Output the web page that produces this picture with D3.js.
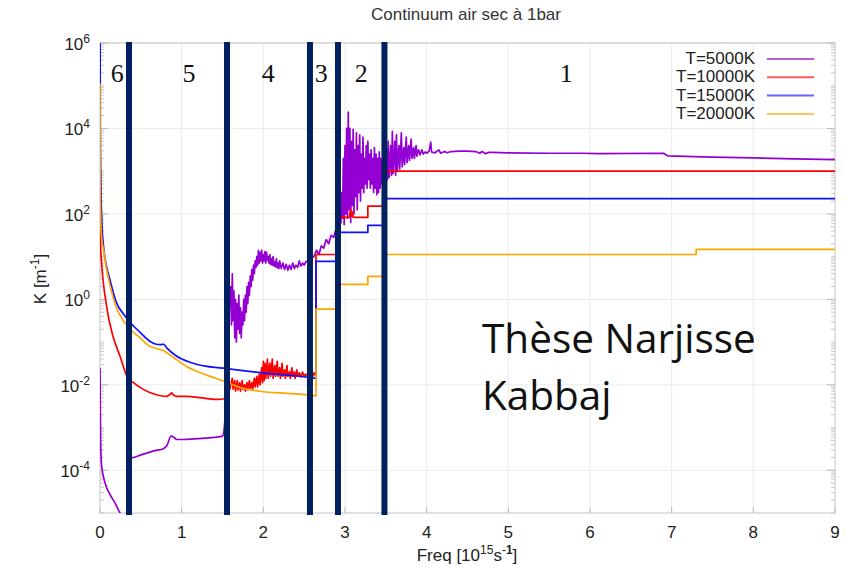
<!DOCTYPE html>
<html><head><meta charset="utf-8">
<script src="https://cdn.jsdelivr.net/npm/d3@7"></script>
<style>body{margin:0;background:#fff} svg{display:block}</style>
</head><body><svg id="chart" width="846" height="570"></svg>
<script>
// ---------- DATA ----------
const xTicks = [0,1,2,3,4,5,6,7,8,9];
const yTickExps = [-4,-2,0,2,4,6];
const seriesNames = ["T=5000K","T=10000K","T=15000K","T=20000K"];
const seriesColors = ["#9400d3","#ff0000","#1010ff","#ffa500"];
const smoothUntil = [1.56,1.56,2.645,2.645];   // smooth (low-frequency) part of each curve
const regionBars = [0.355,1.555,2.571,2.914,3.483];
const regionLabels = ["6","5","4","3","2","1"];
const regionLabelFreq = [0.21,1.09,2.06,2.71,3.20,5.71];
const noteLines = ["Thèse Narjisse","Kabbaj"];

// pairs: [frequency (1e15 s^-1), log10 K (m^-1)]
const t5000 = [
 [0,-1.6],[0.004,-2.6],[0.008,-3.3],[0.02,-3.9],[0.06,-4.28],[0.12,-4.56],[0.18,-4.75],[0.245,-5.0],[0.3,-5.2],[0.35,-5.4],
 [0.36,-3.72],[0.41,-3.7],[0.5,-3.64],[0.6,-3.58],[0.7,-3.53],[0.77,-3.5],[0.82,-3.42],[0.87,-3.2],[0.9,-3.22],[0.94,-3.28],[1.0,-3.28],[1.2,-3.26],[1.4,-3.23],[1.5,-3.2],[1.52,-3.04],[1.555,-2.0],
 [1.59,0.2],[1.60,0.3],[1.61,-0.6],[1.62,0.6],[1.63,-0.5],[1.64,0.2],[1.65,-0.9],[1.66,0.0],[1.67,-1.0],[1.68,-0.1],[1.69,-0.7],[1.70,0.1],[1.71,-0.8],[1.72,-0.2],[1.73,-0.9],[1.74,-0.3],[1.75,-0.6],[1.76,0.0],[1.77,-0.5],[1.78,0.1],[1.79,-0.3],[1.80,0.3],[1.81,-0.1],[1.82,0.4],[1.83,0.1],[1.84,0.55],[1.85,0.3],[1.86,0.7],[1.87,0.45],[1.88,0.8],[1.89,0.6],[1.90,0.9],[1.91,0.75],[1.92,1.0],[1.93,0.8],[1.94,1.15],[1.95,0.85],[1.96,1.1],[1.97,0.9],[1.98,1.15],[1.99,0.85],[2.00,1.05],
 [2.01,0.9],[2.02,1.12],[2.03,0.85],[2.04,1.1],[2.05,0.92],[2.06,1.0],[2.07,0.85],[2.08,1.05],[2.09,0.82],[2.10,0.95],[2.11,0.8],[2.12,1.0],[2.13,0.78],[2.14,0.88],[2.15,0.76],[2.16,0.95],[2.17,0.74],[2.18,0.85],[2.19,0.72],[2.20,0.9],[2.22,0.72],[2.24,0.85],[2.26,0.7],[2.28,0.82],[2.30,0.68],[2.32,0.8],[2.34,0.7],[2.36,0.85],[2.38,0.72],[2.40,0.8],[2.42,0.75],[2.44,0.9],[2.46,0.78],[2.48,0.85],[2.50,0.8],[2.52,0.88],[2.55,0.9],
 [2.58,0.95],[2.62,1.0],[2.65,1.15],[2.68,1.05],[2.71,1.25],[2.74,1.2],[2.77,1.4],[2.80,1.3],[2.83,1.5],[2.86,1.45],[2.89,1.65],[2.92,1.7],
 [2.95,1.8],[2.96,2.5],[2.97,1.9],[2.98,3.3],[2.99,1.75],[3.00,3.6],[3.01,2.0],[3.02,4.0],[3.03,1.9],[3.04,4.38],[3.05,2.1],[3.06,4.0],[3.07,1.8],[3.08,3.7],[3.09,2.2],[3.10,3.98],[3.11,2.0],[3.12,3.5],[3.13,2.4],[3.14,3.9],[3.15,2.1],[3.16,3.6],[3.17,2.5],[3.18,3.85],[3.19,2.3],[3.20,3.4],[3.21,2.6],[3.22,3.8],[3.23,2.5],[3.24,3.3],[3.25,2.7],[3.26,3.6],[3.27,2.6],[3.28,3.7],[3.29,2.8],[3.30,3.4],[3.31,2.6],[3.32,3.5],[3.33,2.7],[3.34,3.3],[3.35,2.5],[3.36,3.55],[3.37,2.6],[3.38,3.4],[3.39,2.45],[3.40,3.3],[3.41,2.5],[3.42,3.45],[3.43,2.6],[3.44,3.3],[3.45,2.7],[3.46,3.2],
 [3.50,2.9],[3.51,3.5],[3.52,2.8],[3.53,3.7],[3.54,2.85],[3.56,3.6],[3.57,2.9],[3.58,3.93],[3.59,2.95],[3.61,3.7],[3.62,2.9],[3.63,3.85],[3.64,3.0],[3.66,3.6],[3.67,3.05],[3.69,3.9],[3.70,3.1],[3.72,3.55],[3.73,3.15],[3.75,3.8],[3.76,3.2],[3.78,3.6],[3.79,3.25],[3.81,3.75],[3.82,3.3],[3.84,3.55],[3.85,3.3],[3.87,3.6],[3.88,3.35],[3.90,3.5],[3.92,3.38],[3.94,3.5],[3.96,3.4],[3.98,3.45],[4.00,3.42],[4.03,3.47],[4.05,3.68],[4.06,3.45],[4.10,3.43],[4.15,3.5],[4.17,3.42],[4.22,3.46],[4.25,3.43],[4.30,3.46],[4.40,3.47],[4.50,3.47],[4.60,3.46],[4.65,3.42],[4.68,3.46],[4.72,3.41],[4.76,3.44],[4.80,3.44],[5.0,3.43],[5.5,3.42],[5.9,3.42],[6.1,3.41],[6.9,3.42],[6.95,3.36],[7.5,3.33],[8.0,3.31],[8.5,3.29],[9.0,3.27]
];
const t10000 = [
 [0,2.15],[0.006,1.3],[0.02,0.85],[0.08,-0.16],[0.16,-0.87],[0.245,-1.33],[0.33,-1.8],[0.41,-1.95],[0.49,-2.06],[0.61,-2.18],[0.73,-2.25],[0.82,-2.27],[0.86,-2.22],[0.88,-2.19],[0.9,-2.24],[0.94,-2.27],[1.06,-2.27],[1.22,-2.3],[1.43,-2.34],[1.55,-2.32],[1.59,-2.1],
 [1.60,-2.0],[1.62,-1.85],[1.63,-2.1],[1.65,-1.9],[1.66,-2.15],[1.68,-1.9],[1.69,-2.12],[1.71,-1.95],[1.72,-2.15],[1.74,-1.9],[1.75,-2.1],[1.77,-2.0],[1.78,-2.15],[1.80,-1.95],[1.81,-2.12],[1.83,-1.9],[1.84,-2.1],[1.86,-1.95],[1.87,-2.1],[1.89,-1.85],[1.90,-2.05],[1.92,-1.8],[1.93,-2.05],[1.95,-1.75],[1.96,-2.0],[1.98,-1.6],[1.99,-1.95],[2.00,-1.45],[2.01,-1.9],[2.02,-1.5],[2.03,-1.85],[2.05,-1.4],[2.06,-1.85],[2.08,-1.5],[2.09,-1.8],[2.11,-1.4],[2.12,-1.85],[2.14,-1.55],[2.15,-1.8],[2.17,-1.45],[2.18,-1.8],[2.20,-1.6],[2.21,-1.85],[2.23,-1.5],[2.24,-1.8],[2.26,-1.65],[2.27,-1.85],[2.29,-1.55],[2.30,-1.8],[2.32,-1.7],[2.33,-1.85],[2.35,-1.6],[2.36,-1.8],[2.38,-1.7],[2.39,-1.85],[2.41,-1.65],[2.42,-1.8],[2.44,-1.72],[2.46,-1.82],[2.48,-1.7],[2.50,-1.8],[2.52,-1.75],[2.55,-1.8],[2.57,-1.75],[2.60,-1.82],[2.62,-1.72],[2.645,-1.8],
 [2.645,1.05],[2.914,1.05],[2.914,1.92],[3.05,1.92],[3.07,2.1],[3.08,1.95],[3.09,2.05],[3.1,1.92],[3.28,1.92],[3.28,2.18],[3.483,2.18],[3.483,3.0],[9,3.0]
];
const t15000 = [
 [0,7],[0.004,4],[0.012,2.6],[0.025,1.7],[0.04,1.3],[0.08,0.77],[0.12,0.47],[0.2,-0.07],[0.29,-0.35],[0.37,-0.54],[0.49,-0.77],[0.61,-0.98],[0.69,-1.05],[0.74,-1.06],[0.78,-1.05],[0.82,-1.14],[0.94,-1.33],[1.1,-1.47],[1.31,-1.57],[1.55,-1.62],[1.8,-1.68],[2.04,-1.73],[2.45,-1.8],[2.645,-1.85],
 [2.645,0.89],[2.914,0.89],[2.914,1.57],[3.28,1.57],[3.28,1.73],[3.483,1.73],[3.483,2.36],[9,2.36]
];
const t20000 = [
 [0,5.05],[0.002,3.0],[0.01,1.8],[0.025,1.35],[0.04,1.2],[0.08,0.7],[0.12,0.35],[0.2,-0.19],[0.29,-0.51],[0.37,-0.7],[0.49,-0.9],[0.61,-1.1],[0.73,-1.17],[0.78,-1.2],[0.82,-1.25],[0.9,-1.36],[1.06,-1.57],[1.22,-1.71],[1.39,-1.83],[1.55,-1.94],[1.71,-2.06],[1.96,-2.15],[2.29,-2.2],[2.45,-2.22],[2.645,-2.26],
 [2.645,-0.23],[2.914,-0.23],[2.914,0.35],[3.28,0.35],[3.28,0.54],[3.483,0.54],[3.483,1.05],[7.3,1.05],[7.3,1.17],[9,1.17]
];
const seriesData = [t5000,t10000,t15000,t20000];

// ---------- CHART ----------
const svg = d3.select("#chart");
const L=100, R=835, T=43, B=513;
const x = d3.scaleLinear().domain([0,9]).range([L,R]);
const y = d3.scaleLog().domain([1e-5,1e6]).range([B,T]);
const sans = "'Liberation Sans', Arial, sans-serif";

// grid
const g = svg.append("g");
g.selectAll(".gx").data(xTicks.slice(1,-1)).enter().append("line")
 .attr("x1",d=>x(d)).attr("x2",d=>x(d)).attr("y1",T).attr("y2",B)
 .attr("stroke","#ebebeb").attr("stroke-width",1);
g.selectAll(".gy").data(yTickExps).enter().append("line")
 .attr("x1",L).attr("x2",R).attr("y1",d=>y(Math.pow(10,d))).attr("y2",d=>y(Math.pow(10,d)))
 .attr("stroke","#ebebeb").attr("stroke-width",1);

// minor ticks (log)
const minor=[];
for(let k=-5;k<6;k++) for(let m=1;m<10;m++){const v=m*Math.pow(10,k); if(v>=1e-5&&v<=1e6 && !(m===1 && k%2===0)) minor.push(v);}
[[L,4],[R,-4]].forEach(([x0,len])=>{
 g.selectAll(null).data(minor).enter().append("line")
  .attr("x1",x0).attr("x2",x0+len).attr("y1",d=>y(d)).attr("y2",d=>y(d))
  .attr("stroke","#bbb").attr("stroke-width",0.8);
 g.selectAll(null).data(yTickExps).enter().append("line")
  .attr("x1",x0).attr("x2",x0+len*2).attr("y1",d=>y(Math.pow(10,d))).attr("y2",d=>y(Math.pow(10,d)))
  .attr("stroke","#aaa").attr("stroke-width",0.8);
});
g.selectAll(null).data(xTicks).enter().append("line")
 .attr("x1",d=>x(d)).attr("x2",d=>x(d)).attr("y1",B).attr("y2",B-6)
 .attr("stroke","#aaa").attr("stroke-width",0.8);

// frame
svg.append("rect").attr("x",L).attr("y",T).attr("width",R-L).attr("height",B-T)
 .attr("fill","none").attr("stroke","#c4c4c4").attr("stroke-width",1);

// clip
svg.append("defs").append("clipPath").attr("id","clip").append("rect")
 .attr("x",L).attr("y",T).attr("width",R-L).attr("height",B-T);

const px = d=>x(d[0]), py = d=>y(Math.pow(10,d[1]));
const smoothLine = d3.line().x(px).y(py).curve(d3.curveMonotoneX);
const rawLine = d3.line().x(px).y(py);
const curves = svg.append("g").attr("clip-path","url(#clip)");
seriesData.forEach((s,i)=>{
 let idx = 0;
 s.forEach((d,j)=>{ if(d[0] < smoothUntil[i]) idx = j; });
 const gS = curves.append("g").attr("fill","none").attr("stroke",seriesColors[i])
  .attr("stroke-width",1.7).attr("stroke-linejoin","round");
 gS.append("path").attr("d",smoothLine(s.slice(0,idx+1)));
 gS.append("path").attr("d",rawLine(s.slice(idx)));
});

// region bars
svg.selectAll(".bar").data(regionBars).enter().append("rect")
 .attr("x",d=>x(d)-3).attr("width",6).attr("y",T-1).attr("height",B-T+3)
 .attr("fill","#002060");

// region labels
svg.selectAll(".rl").data(regionLabels).enter().append("text")
 .attr("x",(d,i)=>x(regionLabelFreq[i])).attr("y",82).attr("text-anchor","middle")
 .attr("font-family","'Liberation Serif', 'Times New Roman', serif").attr("font-size",26)
 .attr("fill","#111").text(d=>d);

// y tick labels
const yl = svg.selectAll(".ytl").data(yTickExps).enter().append("text")
 .attr("x",90).attr("y",d=>y(Math.pow(10,d))+7).attr("text-anchor","end")
 .attr("font-family",sans).attr("font-size",17).attr("fill","#222");
yl.append("tspan").text("10");
yl.append("tspan").attr("dy",-7).attr("font-size",12).text(d=>d<0?"-"+(-d):String(d));

// x tick labels
svg.selectAll(".xtl").data(xTicks).enter().append("text")
 .attr("x",d=>x(d)).attr("y",538).attr("text-anchor","middle")
 .attr("font-family",sans).attr("font-size",17).attr("fill","#222").text(d=>d);

// title
svg.append("text").attr("x",466).attr("y",20).attr("text-anchor","middle")
 .attr("font-family",sans).attr("font-size",17).attr("fill","#333").text("Continuum air sec à 1bar");

// x label
const xl = svg.append("text").attr("x",467).attr("y",561).attr("text-anchor","middle")
 .attr("font-family",sans).attr("font-size",17).attr("fill","#222");
xl.append("tspan").text("Freq [10");
xl.append("tspan").attr("dy",-7).attr("font-size",12).text("15");
xl.append("tspan").attr("dy",7).text("s");
xl.append("tspan").attr("dy",-7).attr("font-size",12).text("-");
xl.append("tspan").attr("font-size",12).attr("font-weight","bold").text("1");
xl.append("tspan").attr("dy",7).text("]");

// y label
const ylab = svg.append("text").attr("transform","translate(46,279) rotate(-90)").attr("text-anchor","middle")
 .attr("font-family",sans).attr("font-size",17).attr("fill","#222");
ylab.append("tspan").text("K [m");
ylab.append("tspan").attr("dy",-7).attr("font-size",12).text("-1");
ylab.append("tspan").attr("dy",7).text("]");

// legend
const lg = svg.append("g");
seriesNames.forEach((n,i)=>{
 const yy = 64 + i*18.3;
 lg.append("text").attr("x",755).attr("y",yy).attr("text-anchor","end")
  .attr("font-family",sans).attr("font-size",17).attr("fill","#222").text(n);
 lg.append("line").attr("x1",767).attr("x2",814).attr("y1",yy-5).attr("y2",yy-5)
  .attr("stroke",seriesColors[i]).attr("stroke-width",2).attr("opacity",0.65);
});

// annotation
const note = svg.append("g");
noteLines.forEach((t,i)=>{
 note.append("text").attr("x",482).attr("y",353+i*57)
  .attr("font-family","'Open Sans', 'Noto Sans', sans-serif").attr("font-size",40.5).attr("fill","#111").text(t);
});
</script></body></html>
